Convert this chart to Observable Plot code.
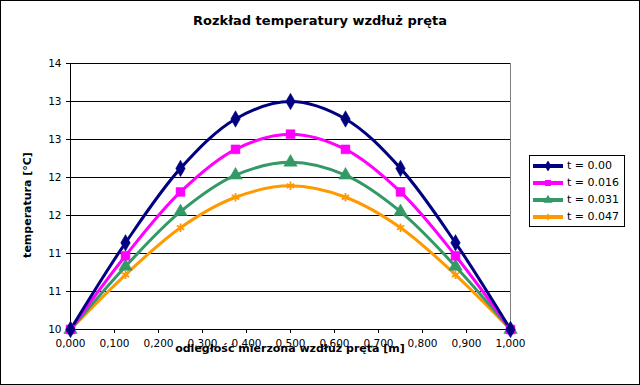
<!DOCTYPE html>
<html>
<head>
<meta charset="utf-8">
<script src="https://cdn.jsdelivr.net/npm/d3@7"></script>
<script src="https://cdn.jsdelivr.net/npm/@observablehq/plot@0.6"></script>
<style>
  body { margin: 0; background: white; }
  #wrap { position: relative; width: 640px; height: 385px; background: white; font-family: "DejaVu Sans", sans-serif; overflow: hidden; }
  #wrap svg { position: absolute; left: 0; top: 0; }
  #border { position: absolute; left: 0; top: 0; width: 640px; height: 385px; border: 1px solid black; box-sizing: border-box; pointer-events: none; }
  .title { position: absolute; left: 0; width: 640px; top: 13px; text-align: center; font-weight: bold; font-size: 13px; }
  .xtitle { position: absolute; left: 90px; width: 400px; top: 342px; text-align: center; font-weight: bold; font-size: 11px; }
  .ytitle { position: absolute; left: 27px; top: 205px; transform: translate(-50%, -50%) rotate(-90deg); font-weight: bold; font-size: 11px; white-space: nowrap; }
  #legend { position: absolute; left: 529px; top: 155px; width: 96px; height: 72px; border: 1px solid black; box-sizing: border-box; background: white; padding-top: 1px; }
  .row { height: 17px; display: flex; align-items: center; font-size: 11px; }
  .row svg { position: static !important; margin-left: 3px; margin-right: 4px; }
</style>
</head>
<body>
<div id="wrap"></div>
<script>
const xValues = [0, 0.125, 0.25, 0.375, 0.5, 0.625, 0.75, 0.875, 1];
const seriesNames = ["t = 0.00", "t = 0.016", "t = 0.031", "t = 0.047"];
const t000 = [10, 11.14, 12.12, 12.77, 13.00, 12.77, 12.12, 11.14, 10];
const t016 = [10, 10.97, 11.81, 12.37, 12.57, 12.37, 11.81, 10.97, 10];
const t031 = [10, 10.83, 11.55, 12.03, 12.20, 12.03, 11.55, 10.83, 10];
const t047 = [10, 10.72, 11.34, 11.74, 11.89, 11.74, 11.34, 10.72, 10];
const seriesColors = ["#000080", "#FF00FF", "#339966", "#FF9900"];
const seriesSymbols = ["diamond", "square", "triangle", "asterisk"];
const xTicks = [0, 0.1, 0.2, 0.3, 0.4, 0.5, 0.6, 0.7, 0.8, 0.9, 1];
const xTickLabels = ["0,000","0,100","0,200","0,300","0,400","0,500","0,600","0,700","0,800","0,900","1,000"];
const yTicks = [10, 10.5, 11, 11.5, 12, 12.5, 13, 13.5];
const yTickLabels = ["10","11","11","12","12","13","13","14"];
const titleText = "Rozkład temperatury wzdłuż pręta";
const xTitle = "odległość mierzona wzdłuż pręta [m]";
const yTitle = "temperatura [°C]";

const allSeries = [t000, t016, t031, t047];
const data = [];
// build in reverse order so the first series is drawn on top
for (let si = allSeries.length - 1; si >= 0; si--) {
  allSeries[si].forEach((v, i) => data.push({x: xValues[i], y: v, s: seriesNames[si]}));
}
const filled = data.filter(d => d.s !== seriesNames[3]);
const starred = data.filter(d => d.s === seriesNames[3]);

const chart = Plot.plot({
  width: 640, height: 385,
  marginLeft: 70, marginRight: 130, marginTop: 63, marginBottom: 56,
  style: {fontFamily: "DejaVu Sans", fontSize: "10.5px", color: "black", background: "transparent", overflow: "visible"},
  x: {domain: [0, 1]},
  y: {domain: [10, 13.5]},
  color: {domain: seriesNames, range: seriesColors},
  symbol: {domain: seriesNames, range: seriesSymbols},
  marks: [
    Plot.frame({stroke: "#808080"}),
    Plot.ruleY(yTicks, {stroke: "black", strokeWidth: 1}),
    Plot.ruleX([0], {stroke: "black"}),
    Plot.ruleY([10], {stroke: "black"}),
    Plot.axisY(yTicks, {tickSize: 4, tickPadding: 5, tickFormat: d => yTickLabels[yTicks.indexOf(d)], label: null, stroke: "black"}),
    Plot.axisX(xTicks, {tickSize: 4, tickPadding: 6, tickFormat: d => xTickLabels[xTicks.indexOf(d)], label: null, stroke: "black"}),
    Plot.line(data, {x: "x", y: "y", z: "s", stroke: "s", curve: "catmull-rom", strokeWidth: 3}),
    Plot.dot(starred, {x: "x", y: "y", symbol: "s", stroke: "s", r: 4, strokeWidth: 1.8}),
    Plot.dot(filled, {x: "x", y: "y", symbol: "s", fill: "s", r: 5, stroke: "s", strokeWidth: 0.5})
  ]
});

const wrap = document.getElementById("wrap");
wrap.appendChild(chart);

function addDiv(cls, text) {
  const d = document.createElement("div");
  d.className = cls; d.textContent = text; wrap.appendChild(d); return d;
}
addDiv("title", titleText);
addDiv("xtitle", xTitle);
addDiv("ytitle", yTitle);

const legend = document.createElement("div");
legend.id = "legend";
seriesNames.forEach((name, i) => {
  const row = document.createElement("div");
  row.className = "row";
  const svg = d3.create("svg").attr("width", 30).attr("height", 10);
  svg.append("line").attr("x1", 0).attr("x2", 30).attr("y1", 5).attr("y2", 5)
    .attr("stroke", seriesColors[i]).attr("stroke-width", 4);
  const symType = [d3.symbolDiamond, d3.symbolSquare, d3.symbolTriangle, d3.symbolAsterisk][i];
  const p = svg.append("path").attr("transform", "translate(15,5)")
    .attr("d", d3.symbol(symType, i === 3 ? 30 : 36)());
  if (i === 3) p.attr("fill", "none").attr("stroke", seriesColors[i]).attr("stroke-width", 1.5);
  else p.attr("fill", seriesColors[i]);
  row.appendChild(svg.node());
  const span = document.createElement("span");
  span.textContent = name;
  row.appendChild(span);
  legend.appendChild(row);
});
wrap.appendChild(legend);

const border = document.createElement("div");
border.id = "border";
wrap.appendChild(border);
</script>
</body>
</html>
